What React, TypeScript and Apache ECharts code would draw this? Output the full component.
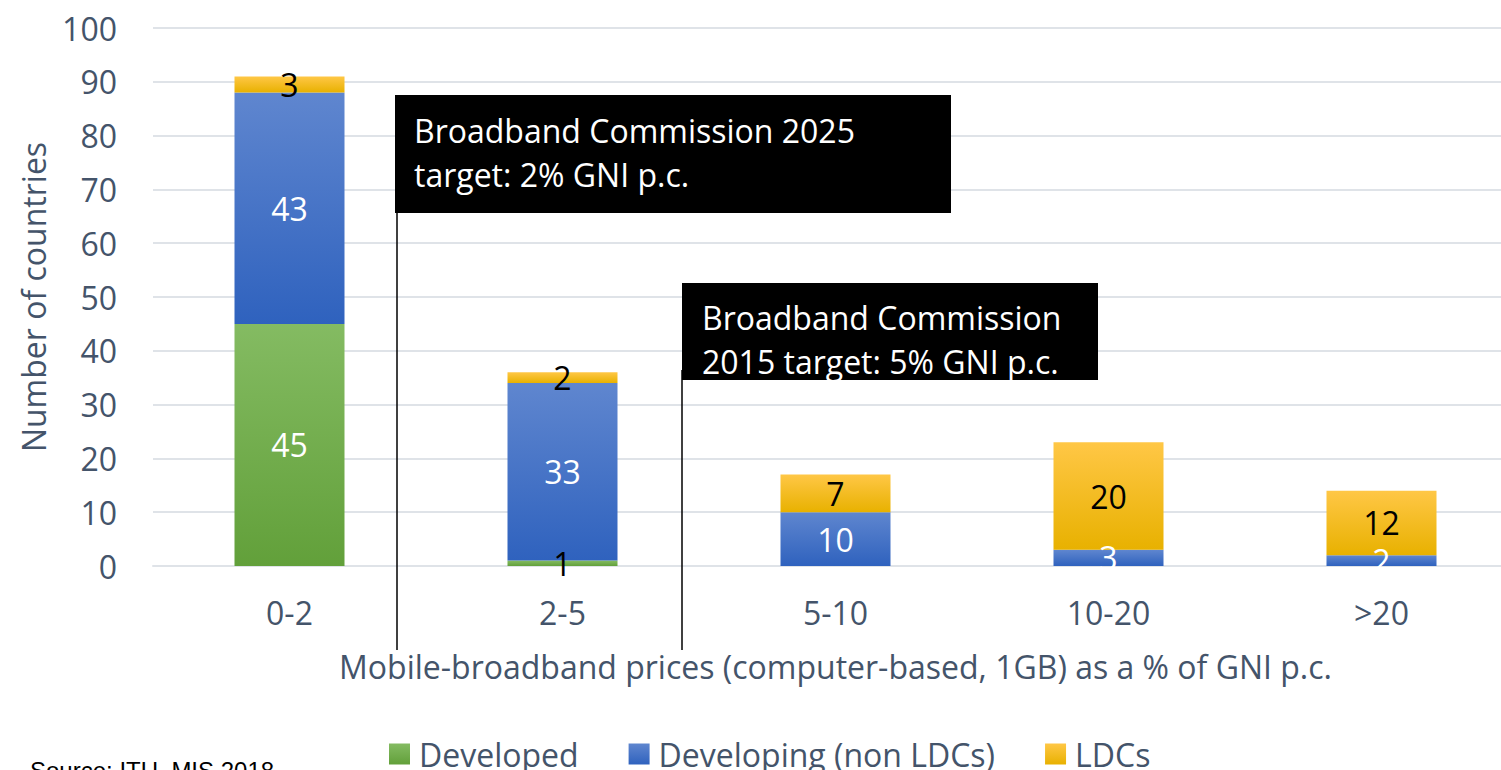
import React, { useEffect, useRef } from "react";
import * as echarts from "echarts";

const categories = ["0-2", "2-5", "5-10", "10-20", ">20"];
const developed = [45, 1, 0, 0, 0];
const developing = [43, 33, 10, 3, 2];
const ldcs = [3, 2, 7, 20, 12];
const yTicks = { min: 0, max: 100, interval: 10 };

const FONT = "'Open Sans'";
const FS = 32;
const AXIS_COLOR = "#44546A";

const grad = (top: string, bottom: string) =>
  new echarts.graphic.LinearGradient(0, 0, 0, 1, [
    { offset: 0, color: top },
    { offset: 1, color: bottom },
  ]);

export default function App() {
  const ref = useRef<HTMLDivElement>(null);
  useEffect(() => {
    if (!ref.current) return;
    const chart = echarts.init(ref.current, null, { renderer: "svg" });
    const labelBase = {
      show: true,
      position: "inside" as const,
      fontFamily: FONT,
      fontSize: FS,
      formatter: (p: any) => (p.value === 0 ? "" : String(p.value)),
    };
    chart.setOption({
      animation: false,
      textStyle: { fontFamily: FONT },
      grid: { left: 153, top: 28, width: 1365, height: 538 },
      legend: {
        left: 384,
        top: 733,
        itemWidth: 21,
        itemHeight: 21,
        itemGap: 50,
        icon: "rect",
        textStyle: { fontFamily: FONT, fontSize: FS, color: AXIS_COLOR, padding: [0, 0, 0, 4] },
        data: ["Developed", "Developing (non LDCs)", "LDCs"],
      },
      xAxis: {
        type: "category",
        data: categories,
        axisTick: { show: false },
        axisLine: { lineStyle: { color: "#dfe3e8", width: 2 } },
        axisLabel: { color: AXIS_COLOR, fontSize: FS, fontFamily: FONT, margin: 30 },
        name: "Mobile-broadband prices (computer-based, 1GB) as a % of GNI p.c.",
        nameLocation: "middle",
        nameGap: 84,
        nameTextStyle: { color: AXIS_COLOR, fontSize: FS, fontFamily: FONT },
      },
      yAxis: {
        type: "value",
        min: yTicks.min,
        max: yTicks.max,
        interval: yTicks.interval,
        axisLine: { show: false },
        axisTick: { show: false },
        splitLine: { lineStyle: { color: "#dfe3e8", width: 2 } },
        axisLabel: { color: AXIS_COLOR, fontSize: FS, fontFamily: FONT, margin: 36 },
        name: "Number of countries",
        nameLocation: "middle",
        nameGap: 104,
        nameTextStyle: { color: AXIS_COLOR, fontSize: FS, fontFamily: FONT },
      },
      series: [
        {
          name: "Developed",
          type: "bar",
          stack: "total",
          barWidth: 110,
          itemStyle: { color: grad("#84bb62", "#62a03a") },
          label: labelBase,
          data: developed.map((v) => ({ value: v, label: { color: v < 5 ? "#000" : "#fff" } })),
        },
        {
          name: "Developing (non LDCs)",
          type: "bar",
          stack: "total",
          barWidth: 110,
          itemStyle: { color: grad("#5f86cf", "#2f62be") },
          label: { ...labelBase, color: "#fff" },
          data: developing,
        },
        {
          name: "LDCs",
          type: "bar",
          stack: "total",
          barWidth: 110,
          itemStyle: { color: grad("#ffc746", "#e8b100") },
          label: { ...labelBase, color: "#000" },
          data: ldcs,
        },
      ],
      graphic: [
        { type: "line", z: 100, shape: { x1: 397, y1: 205, x2: 397, y2: 650 }, style: { stroke: "#000", lineWidth: 1.5 } },
        { type: "line", z: 100, shape: { x1: 682, y1: 370, x2: 682, y2: 650 }, style: { stroke: "#000", lineWidth: 1.5 } },
        { type: "rect", z: 100, shape: { x: 395, y: 95, width: 556, height: 118 }, style: { fill: "#000" } },
        {
          type: "text",
          z: 101,
          x: 414,
          y: 108,
          style: {
            text: "Broadband Commission 2025\ntarget: 2% GNI p.c.",
            fill: "#fff",
            font: `${FS}px ${FONT}`,
            lineHeight: 44,
          },
        },
        { type: "rect", z: 100, shape: { x: 682, y: 283, width: 416, height: 97 }, style: { fill: "#000" } },
        {
          type: "text",
          z: 101,
          x: 702,
          y: 295,
          style: {
            text: "Broadband Commission\n2015 target: 5% GNI p.c.",
            fill: "#fff",
            font: `${FS}px ${FONT}`,
            lineHeight: 44,
          },
        },
        {
          type: "text",
          z: 101,
          x: 30,
          y: 758,
          style: { text: "Source: ITU, MIS 2018", fill: "#000", font: "24px 'Liberation Sans'" },
        },
      ],
    });
    return () => chart.dispose();
  }, []);
  return (
    <div style={{ position: "absolute", left: 0, top: 0, width: 1501, height: 770, overflow: "hidden" }}>
      <div ref={ref} style={{ width: 1520, height: 770 }} />
    </div>
  );
}
